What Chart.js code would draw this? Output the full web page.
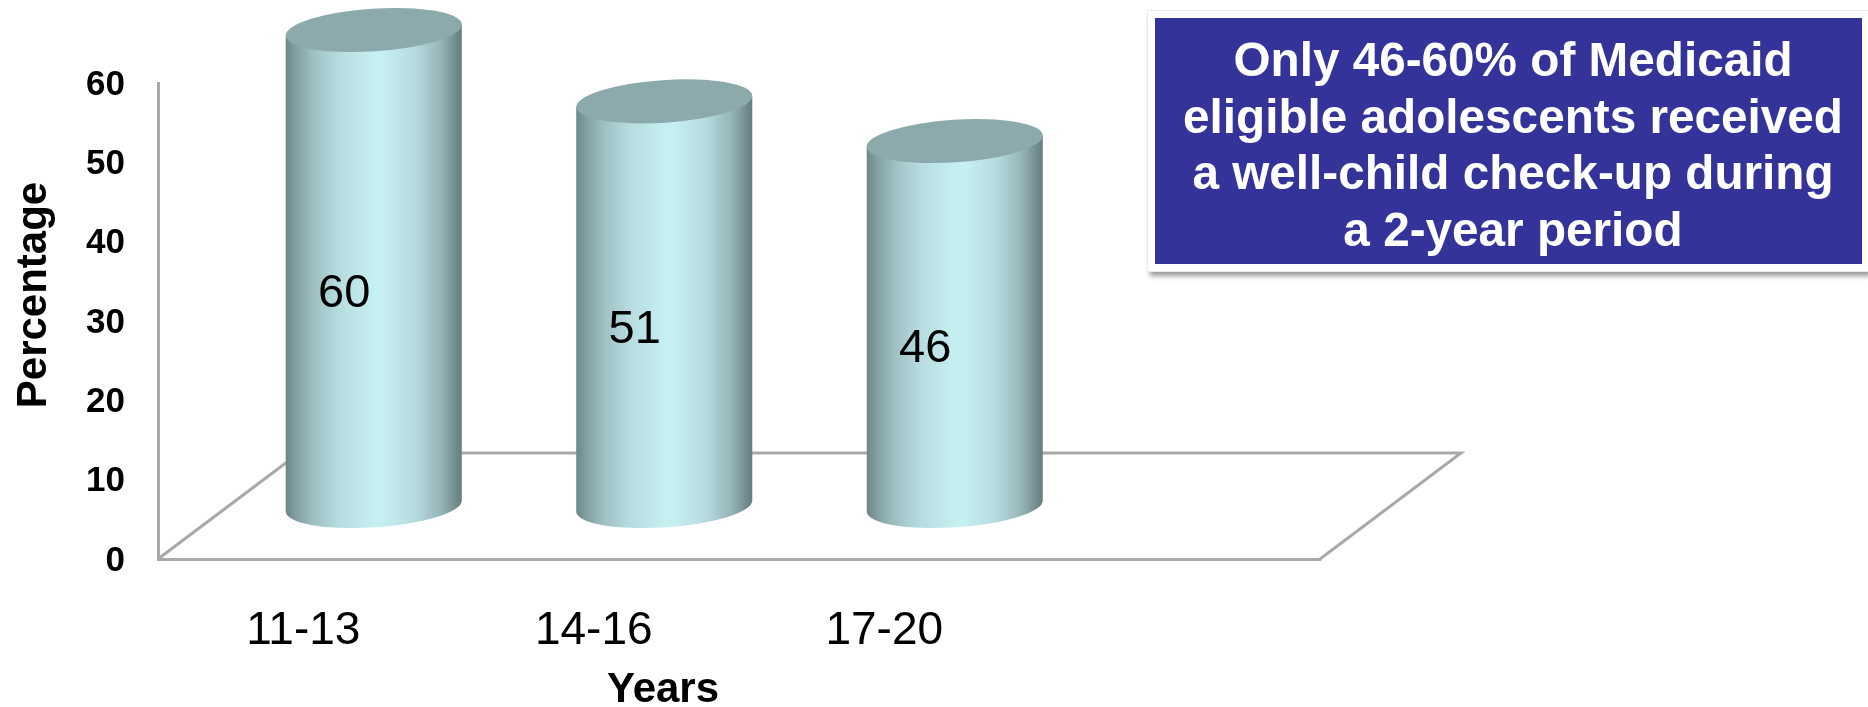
<!DOCTYPE html>
<html>
<head>
<meta charset="utf-8">
<title>Well-child check-ups</title>
<script src="https://cdn.jsdelivr.net/npm/chart.js@4"></script>
<style>
  html, body { margin: 0; padding: 0; background: #fff; }
  #wrap { position: relative; width: 1868px; height: 707px; overflow: hidden; }
  #callout {
    position: absolute; left: 1148px; top: 11px; width: 707px; height: 246px;
    background: #333399; border: 7px solid #fff; outline: 1px solid #ececec;
    box-shadow: 2px 5px 5px rgba(0,0,0,0.4);
    color: #fff; font: bold 47.7px/56.5px "Liberation Sans", Arial, sans-serif;
    text-align: center; white-space: nowrap;
  }
  #callout div { padding: 14px 0 0 9px; }
</style>
</head>
<body>
<div id="wrap">
  <canvas id="chart1" width="1868" height="707"></canvas>
  <div id="callout"><div>Only 46-60% of Medicaid<br>eligible adolescents received<br>a well-child check-up during<br>a 2-year period</div></div>
</div>
<script>
const categories = ["11-13", "14-16", "17-20", ""];
const percentages = [60, 51, 46, null];
const yTicks = [0, 10, 20, 30, 40, 50, 60];
const yTitle = "Percentage";
const xTitle = "Years";

const FONT = '"Liberation Sans", Arial, sans-serif';
const AXIS_COLOR = "#a9a9a9";
// the floor of the fake 3D box
const depthX = 141, depthY = 106;

// floor lines behind the cylinders
const floorPlugin = {
  id: "floor",
  beforeDatasetsDraw(chart) {
    const ctx = chart.ctx, a = chart.chartArea;
    ctx.save();
    ctx.strokeStyle = AXIS_COLOR;
    ctx.lineWidth = 3;
    ctx.beginPath();
    ctx.moveTo(a.left, a.bottom);
    ctx.lineTo(a.left + depthX, a.bottom - depthY);
    ctx.lineTo(a.right + depthX, a.bottom - depthY);
    ctx.lineTo(a.right, a.bottom);
    ctx.stroke();
    ctx.restore();
  }
};

function drawCylinder(ctx, el, value) {
  const cx = el.x + depthX / 2, top = el.y - depthY / 2, base = el.base - depthY / 2;
  const w = el.width / 2;
  const tilt = -3.8 * Math.PI / 180, rx = w + 0.2, ry = 21.3;
  const dy = 5.5; // edge of the ellipse sits off its centre because of the tilt

  const grad = ctx.createLinearGradient(cx - w, 0, cx + w, 0);
  grad.addColorStop(0, "#6d8789");
  grad.addColorStop(0.06, "#83a0a2");
  grad.addColorStop(0.16, "#9fc0c3");
  grad.addColorStop(0.3, "#b6dcdf");
  grad.addColorStop(0.5, "#c6eff1");
  grad.addColorStop(0.56, "#c6eff1");
  grad.addColorStop(0.74, "#b5dade");
  grad.addColorStop(0.88, "#96b5b7");
  grad.addColorStop(0.96, "#758f91");
  grad.addColorStop(1, "#647d7f");

  ctx.save();
  ctx.fillStyle = grad;
  ctx.beginPath();
  ctx.moveTo(cx - w, top + dy);
  ctx.lineTo(cx - w, base + dy);
  ctx.ellipse(cx, base, rx, ry, tilt, Math.PI, 0, true);
  ctx.lineTo(cx + w, top - dy);
  ctx.closePath();
  ctx.fill();

  ctx.fillStyle = "#8caaab";
  ctx.beginPath();
  ctx.ellipse(cx, top, rx, ry, tilt, 0, Math.PI * 2);
  ctx.fill();

  ctx.fillStyle = "#000";
  ctx.font = "47px " + FONT;
  ctx.textAlign = "center";
  ctx.textBaseline = "middle";
  ctx.fillText(String(value), el.x + 41, (el.y + el.base) / 2 - 27);
  ctx.restore();
}

const cylinderPlugin = {
  id: "cylinders",
  afterDatasetsDraw(chart) {
    const meta = chart.getDatasetMeta(0);
    const vals = chart.data.datasets[0].data;
    for (var i = 0; i < vals.length; i++) {
      if (vals[i] === null) continue;
      drawCylinder(chart.ctx, meta.data[i], vals[i]);
    }
  }
};

// axis titles are not centred on the plot in the picture
const titlePlugin = {
  id: "axisTitles",
  afterDraw(chart) {
    const ctx = chart.ctx;
    ctx.save();
    ctx.fillStyle = "#000";
    ctx.font = "bold 42px " + FONT;
    ctx.textAlign = "center";
    ctx.textBaseline = "middle";
    ctx.fillText(xTitle, 663, 690);
    ctx.translate(34, 295);
    ctx.rotate(-Math.PI / 2);
    ctx.fillText(yTitle, 0, 0);
    ctx.restore();
  }
};

new Chart(document.getElementById("chart1").getContext("2d"), {
  type: "bar",
  data: {
    labels: categories,
    datasets: [{
      label: "Percentage",
      data: percentages,
      backgroundColor: "transparent",
      borderWidth: 0,
      categoryPercentage: 1,
      barPercentage: 0.606
    }]
  },
  options: {
    responsive: false,
    animation: false,
    layout: { padding: { top: 83, right: 548, left: 0, bottom: 0 } },
    plugins: { legend: { display: false }, tooltip: { enabled: false } },
    scales: {
      x: {
        grid: { display: false, drawTicks: false },
        border: { color: AXIS_COLOR, width: 3 },
        ticks: { color: "#000", font: { family: FONT, size: 46 }, padding: 45, maxRotation: 0 },
        afterFit(s) { s.height = 148; }
      },
      y: {
        min: 0,
        max: 60,
        afterBuildTicks(s) { s.ticks = yTicks.map(v => ({ value: v })); },
        grid: { display: false, drawTicks: false },
        border: { color: AXIS_COLOR, width: 3 },
        ticks: { color: "#000", font: { family: FONT, size: 35, weight: "bold" }, padding: 33, labelOffset: 2 },
        afterFit(s) { s.width = 158; }
      }
    }
  },
  plugins: [floorPlugin, cylinderPlugin, titlePlugin]
});
</script>
</body>
</html>
